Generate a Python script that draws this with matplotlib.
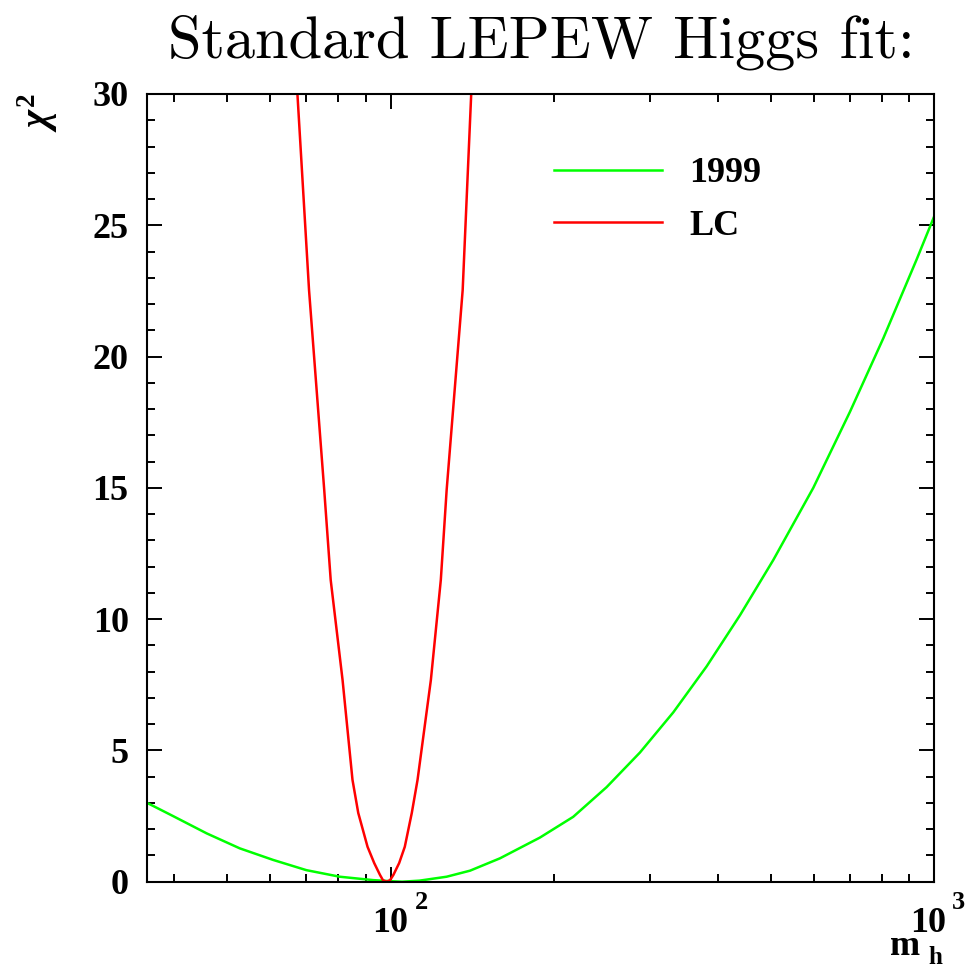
import numpy as np
import matplotlib.pyplot as plt
import matplotlib.transforms as mtransforms
from matplotlib.ticker import FixedLocator, LogLocator, MultipleLocator, NullFormatter

# chi^2 vs Higgs mass
m_1999 = [35.6, 39.8, 45.9, 52.8, 60.8, 70.0, 80.6, 92.9, 100.0, 105.0, 113.0,
          126.8, 140.0, 158.9, 188.2, 216.7, 249.6, 287.5, 331.1, 381.3,
          439.2, 505.6, 599.0, 699.8, 805.9, 928.0, 1000.0]
chi2_1999 = [3.01, 2.50, 1.84, 1.27, 0.83, 0.44, 0.19, 0.06, 0.02, 0.0, 0.04,
             0.19, 0.42, 0.89, 1.68, 2.47, 3.60, 4.92, 6.45, 8.20,
             10.15, 12.25, 15.0, 17.9, 20.7, 23.7, 25.35]

m_lc = [67.4, 70.8, 75.5, 77.6, 81.6, 85.1, 87.2, 90.7, 93.3, 95.6, 96.8, 98.3,
        99.8, 101.2, 103.7, 106.2, 109.4, 112.1, 118.6, 123.7, 126.8, 135.7, 140.7]
chi2_lc = [30.0, 22.53, 14.92, 11.49, 7.68, 3.88, 2.62, 1.33, 0.71, 0.26, 0.06, 0.0,
           0.06, 0.26, 0.71, 1.33, 2.62, 3.88, 7.68, 11.49, 14.92, 22.53, 30.0]

series_labels = ['1999', 'LC']
x_major = [100, 1000]
x_exponents = ['2', '3']
y_major = [0, 5, 10, 15, 20, 25, 30]

plt.rcParams['font.family'] = 'Liberation Serif'
plt.rcParams['font.weight'] = 'bold'
plt.rcParams['mathtext.fontset'] = 'custom'
plt.rcParams['mathtext.rm'] = 'Liberation Serif'
plt.rcParams['mathtext.it'] = 'Liberation Serif:italic'
plt.rcParams['mathtext.bf'] = 'Liberation Serif:bold'

W, H = 974, 969
fig = plt.figure(figsize=(W / 100, H / 100), dpi=100)
x0, x1, y0, y1 = 146.7, 934.3, 881.7, 94.0
ax = fig.add_axes([x0 / W, 1 - y0 / H, (x1 - x0) / W, (y0 - y1) / H])

ax.plot(m_1999, chi2_1999, color='#00ff00', lw=1.8, label=series_labels[0])
ax.plot(m_lc, chi2_lc, color='#ff0000', lw=1.8, label=series_labels[1])

ax.set_xscale('log')
ax.set_xlim(35.6, 1000)
ax.set_ylim(0, 30)

ax.xaxis.set_major_locator(FixedLocator(x_major))
ax.xaxis.set_minor_locator(LogLocator(base=10, subs=np.arange(2, 10)))
ax.xaxis.set_major_formatter(NullFormatter())
ax.xaxis.set_minor_formatter(NullFormatter())
ax.yaxis.set_major_locator(FixedLocator(y_major))
ax.yaxis.set_minor_locator(MultipleLocator(1))

ax.tick_params(which='both', direction='in', top=True, right=True, width=1.4)
ax.tick_params(which='major', length=10.8, labelsize=26, pad=13)
ax.tick_params(which='minor', length=5.8)
for s in ax.spines.values():
    s.set_linewidth(1.5)

# x tick labels: "10" centred on the tick, exponent to the right
def px(dx, dy):
    return mtransforms.ScaledTranslation(dx / 100, dy / 100, fig.dpi_scale_trans)

base = ax.get_xaxis_transform()
shifts = [0, -6]
for xv, e, sh in zip(x_major, x_exponents, shifts):
    ax.text(xv, 0, '10', transform=base + px(sh, -50), ha='center',
            va='baseline', fontsize=26, clip_on=False)
    ax.text(xv, 0, e, transform=base + px(sh + 24, -27), ha='left',
            va='baseline', fontsize=19, clip_on=False)

# axis titles
fig.text(890 / W, 1 - 955 / H, 'm', ha='left', va='baseline', fontsize=26)
fig.text(928 / W, 1 - 964 / H, 'h', ha='left', va='baseline', fontsize=18)
fig.text(38 / W, 1 - 94 / H, r'$\chi^{2}$', rotation=90, ha='center',
         va='top', fontsize=28)

fig.text(541 / W, 1 - 57 / H, 'Standard LEPEW Higgs fit:', family='cmr10',
         weight='normal', fontsize=43.5, ha='center', va='baseline')

ax.legend(loc='upper left', bbox_to_anchor=((554 - x0) / (x1 - x0), (y0 - 157) / (y0 - y1)),
          frameon=False, fontsize=26, handlelength=3.0, handletextpad=0.75,
          labelspacing=0.54, borderpad=0, borderaxespad=0)

fig.savefig('out.png', dpi=100)
